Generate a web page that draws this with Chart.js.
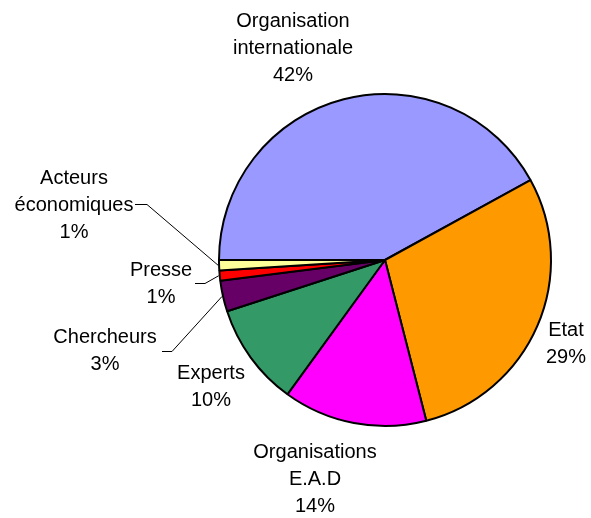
<!DOCTYPE html>
<html>
<head>
<meta charset="utf-8">
<script src="https://cdn.jsdelivr.net/npm/chart.js@4"></script>
<style>
  html, body { margin: 0; padding: 0; background: #fff; }
  #wrap { width: 591px; height: 518px; }
</style>
</head>
<body>
<div id="wrap"><canvas id="pie"></canvas></div>
<script>
// slice data, clockwise from the 9 o'clock position
const categories = [
  ["Organisation", "internationale"],
  ["Etat"],
  ["Organisations", "E.A.D"],
  ["Experts"],
  ["Chercheurs"],
  ["Presse"],
  ["Acteurs", "économiques"]
];
const shares = [42, 29, 14, 10, 3, 1, 1];
const colours = ["#9999FF", "#FF9900", "#FF00FF", "#339966", "#660066", "#FF0000", "#FFFF99"];

// where each label block is centred (first line), and whether it gets a leader line
const labelLayout = [
  { x: 293, y: 21 },
  { x: 566, y: 330 },
  { x: 315, y: 452 },
  { x: 211, y: 373 },
  { x: 105, y: 337, leader: { x0: 162, y0: 351, x1: 172 } },
  { x: 161, y: 270, leader: { x0: 195, y0: 283, x1: 205 } },
  { x: 74, y: 178, leader: { x0: 135, y0: 204, x1: 147 } }
];

const pieLabels = {
  id: "pieLabels",
  afterDatasetsDraw(chart) {
    const ctx = chart.ctx;
    const meta = chart.getDatasetMeta(0);
    ctx.save();
    ctx.font = "20px 'Liberation Sans', Arial, sans-serif";
    ctx.fillStyle = "#000";
    ctx.textAlign = "center";
    ctx.textBaseline = "middle";
    meta.data.forEach((arc, i) => {
      const pos = labelLayout[i];
      const lines = categories[i].concat([shares[i] + "%"]);
      lines.forEach((t, k) => ctx.fillText(t, pos.x, pos.y + k * 27));
      if (pos.leader) {
        const p = arc.getProps(["x", "y", "startAngle", "endAngle", "outerRadius"], true);
        const mid = (p.startAngle + p.endAngle) / 2;
        const ex = p.x + Math.cos(mid) * (p.outerRadius + 1);
        const ey = p.y + Math.sin(mid) * (p.outerRadius + 1);
        ctx.beginPath();
        ctx.lineWidth = 1;
        ctx.strokeStyle = "#000";
        ctx.moveTo(pos.leader.x0, pos.leader.y0 + 0.5);
        ctx.lineTo(pos.leader.x1, pos.leader.y0 + 0.5);
        ctx.lineTo(ex, ey);
        ctx.stroke();
      }
    });
    ctx.restore();
  }
};

new Chart(document.getElementById("pie"), {
  type: "pie",
  data: {
    labels: categories.map(c => c.join(" ")),
    datasets: [{
      data: shares,
      backgroundColor: colours,
      borderColor: "#000",
      borderWidth: 2
    }]
  },
  options: {
    responsive: true,
    maintainAspectRatio: false,
    animation: false,
    rotation: -90,
    layout: { padding: { left: 218, right: 39, top: 93, bottom: 91 } },
    plugins: {
      legend: { display: false },
      tooltip: { enabled: false }
    }
  },
  plugins: [pieLabels]
});
</script>
</body>
</html>
